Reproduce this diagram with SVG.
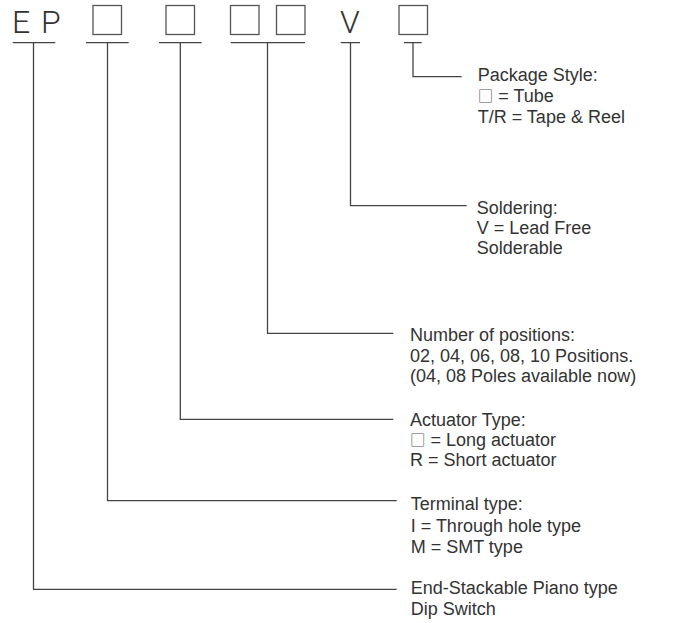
<svg xmlns="http://www.w3.org/2000/svg" width="674" height="623" viewBox="0 0 674 623">
<style>
.big{font-family:"Roboto","Liberation Sans",Arial,sans-serif;font-weight:300;font-size:32px;fill:#333}
.lbl{font-family:"Liberation Sans",Arial,sans-serif;font-size:18px;fill:#333}
.sq{font-family:"Noto Sans CJK SC","DejaVu Sans",sans-serif;font-size:15.5px;fill:#555}
.box{fill:none;stroke:#555;stroke-width:1.3}
.ln{fill:none;stroke:#444;stroke-width:1.3}
</style>
<rect width="674" height="623" fill="#fff"/>
<g id="code">
<text class="big" x="12" y="33.3">E</text>
<text class="big" x="41" y="33.3">P</text>
<rect class="box" x="93" y="5.5" width="28.5" height="29"/>
<rect class="box" x="166" y="5.5" width="28.5" height="29"/>
<rect class="box" x="230.5" y="5.5" width="28.5" height="29"/>
<rect class="box" x="276.5" y="5.5" width="28.5" height="29"/>
<text class="big" x="340" y="33">V</text>
<rect class="box" x="399" y="5.5" width="28.5" height="29"/>
</g>
<g id="connectors">
<path class="ln" d="M12.7 42.7H55.3M33.5 42.7V589.3H396.7"/>
<path class="ln" d="M86 42.7H128.7M107.5 42.7V500.7H396.7"/>
<path class="ln" d="M159 42.7H201.7M180.3 42.7V419.3H393.3"/>
<path class="ln" d="M230.7 42.7H305M267.5 42.7V333.3H393.3"/>
<path class="ln" d="M340.7 42.7H360M350.5 42.7V205.7H466.7"/>
<path class="ln" d="M404 42.7H421.7M413 42.7V76.7H461.7"/>
</g>
<g id="package">
<text class="lbl" x="477.7" y="81">Package Style:</text>
<text class="lbl" x="477.7" y="102"><tspan class="sq">□</tspan> = Tube</text>
<text class="lbl" x="477.7" y="123">T/R = Tape &amp; Reel</text>
</g>
<g id="soldering">
<text class="lbl" x="476.7" y="213.5">Soldering:</text>
<text class="lbl" x="476.7" y="234">V = Lead Free</text>
<text class="lbl" x="476.7" y="254">Solderable</text>
</g>
<g id="positions">
<text class="lbl" x="410" y="341">Number of positions:</text>
<text class="lbl" x="410" y="361.5">02, 04, 06, 08, 10 Positions.</text>
<text class="lbl" x="410" y="381.5">(04, 08 Poles available now)</text>
</g>
<g id="actuator">
<text class="lbl" x="410" y="426">Actuator Type:</text>
<text class="lbl" x="410" y="446"><tspan class="sq">□</tspan> = Long actuator</text>
<text class="lbl" x="410" y="466">R = Short actuator</text>
</g>
<g id="terminal">
<text class="lbl" x="410.7" y="510">Terminal type:</text>
<text class="lbl" x="410.7" y="531.5">I = Through hole type</text>
<text class="lbl" x="410.7" y="553">M = SMT type</text>
</g>
<g id="base">
<text class="lbl" x="410.7" y="594">End-Stackable Piano type</text>
<text class="lbl" x="410.7" y="615">Dip Switch</text>
</g>
</svg>
